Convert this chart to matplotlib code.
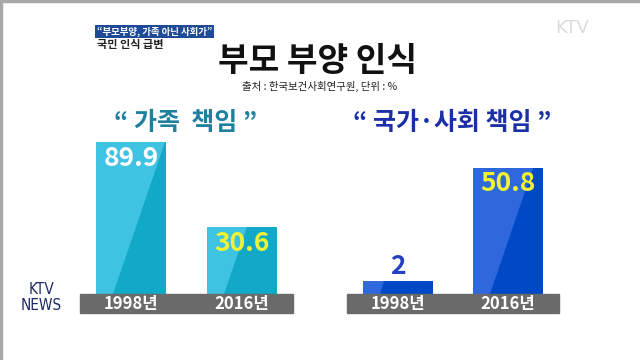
import numpy as np
import matplotlib
matplotlib.use("Agg")
import matplotlib.pyplot as plt
from matplotlib.patches import Rectangle, Polygon

plt.rcParams['font.family'] = ['Noto Sans CJK KR', 'DejaVu Sans']

# data
years = ['1998년', '2016년']
family_resp = [89.9, 30.6]
society_resp = [2, 50.8]
family_labels = ['89.9', '30.6']
society_labels = ['2', '50.8']

title = '부모 부양 인식'
source = '출처 : 한국보건사회연구원, 단위 : %'

W, H = 640, 360
fig = plt.figure(figsize=(6.4, 3.6), dpi=100)
fig.patch.set_facecolor('white')


def fx(px):
    return px / W


def fy(py):
    return 1 - py / H


def draw_group(left_px, right_px, vals, labels, floor, top, light, dark, label_colors, inside):
    # axes from baseline (y=294) up to y=130
    ax = fig.add_axes([fx(left_px), fy(294), (right_px - left_px) / W, (294 - 130) / H])
    ax.set_xlim(-0.46, 1.46)
    ax.set_ylim(-floor, top)
    ax.axis('off')
    x = np.arange(len(vals))
    vals = np.array(vals, dtype=float)
    bw = 0.63
    ax.bar(x, vals + floor, bottom=-floor, width=bw, color=light, zorder=2)
    # darker diagonal facet on the right of each bar
    inv = ax.transData.inverted()
    for xi, v in zip(x, vals):
        (l, b) = ax.transData.transform((xi - bw / 2, -floor))
        (r, t) = ax.transData.transform((xi + bw / 2, v))
        xb = l + 0.24 * (r - l)
        xt = min(r, xb + 0.34 * (t - b))
        pts = inv.transform([(xb, b), (r, b), (r, t), (xt, t)])
        ax.add_patch(Polygon(pts, closed=True, color=dark, lw=0, zorder=3))
    for xi, v, lab, c, ins in zip(x, vals, labels, label_colors, inside):
        if ins:
            ax.annotate(lab, (xi, v), xytext=(0, -11.5), textcoords='offset points',
                        ha='center', va='center', fontsize=19, fontweight='bold',
                        color=c, zorder=5, annotation_clip=False)
        else:
            ax.annotate(lab, (xi, v), xytext=(0, 1), textcoords='offset points',
                        ha='center', va='bottom', fontsize=19, fontweight='bold',
                        color=c, zorder=5, annotation_clip=False)
    # gray year band
    fig.patches.append(Rectangle((fx(left_px), fy(313)), (right_px - left_px) / W, 19 / H,
                                 transform=fig.transFigure, color='#6a6a6a', zorder=1))
    for xi, yr in zip(x, years):
        cx = ax.transData.transform((xi, 0))[0] / W
        fig.text(cx, fy(304), yr, ha='center', va='center', fontsize=12,
                 fontweight='bold', color='white', zorder=4)
    return ax


draw_group(80, 293, family_resp, family_labels, 16.1, 98.3,
           '#3ec4e2', '#12a9c9', ['white', '#f2f235'], [True, True])
draw_group(347, 559, society_resp, society_labels, 3.6, 67.2,
           '#2f68dc', '#0049c6', ['#2240c0', '#f2f235'], [False, True])

# titles
fig.text(fx(318), fy(61), title, ha='center', va='center', fontsize=24,
         fontweight='bold', color='#111111')
fig.text(fx(320), fy(86), source, ha='center', va='center', fontsize=7.5,
         color='#222222')
fig.text(fx(186), fy(123), '“ 가족  책임 ”', ha='center', va='center', fontsize=18,
         fontweight='bold', color='#1f7f9e')
fig.text(fx(452), fy(123), '“ 국가·사회 책임 ”', ha='center', va='center', fontsize=18,
         fontweight='bold', color='#1b2fa6')

# broadcast overlay elements
fig.text(fx(97), fy(31.5), '“부모부양, 가족 아닌 사회가”', ha='left', va='center',
         fontsize=6.8, fontweight='bold', color='white',
         bbox=dict(boxstyle='square,pad=0.18', fc='#1d4b97', ec='none'))
fig.text(fx(97), fy(44.5), '국민 인식 급변', ha='left', va='center', fontsize=8,
         fontweight='bold', color='#222222')
fig.text(fx(572), fy(28), 'KTV', ha='center', va='center', fontsize=13,
         color='#dcdcdc', family=['DejaVu Sans'])
fig.text(fx(41), fy(289), 'KTV', ha='center', va='center', fontsize=11,
         color='#1b2a66', family=['DejaVu Sans'], stretch='condensed')
fig.text(fx(41), fy(305), 'NEWS', ha='center', va='center', fontsize=11,
         color='#1b2a66', family=['DejaVu Sans'], stretch='condensed')

# frame lines at top and left
fig.patches.append(Rectangle((0, 1 - 2 / H), 1, 2 / H, transform=fig.transFigure,
                             color='#a8a8a8', zorder=0))
fig.patches.append(Rectangle((0, 0), 2 / W, 1, transform=fig.transFigure,
                             color='#a8a8a8', zorder=0))

fig.savefig('out.png', dpi=100)
